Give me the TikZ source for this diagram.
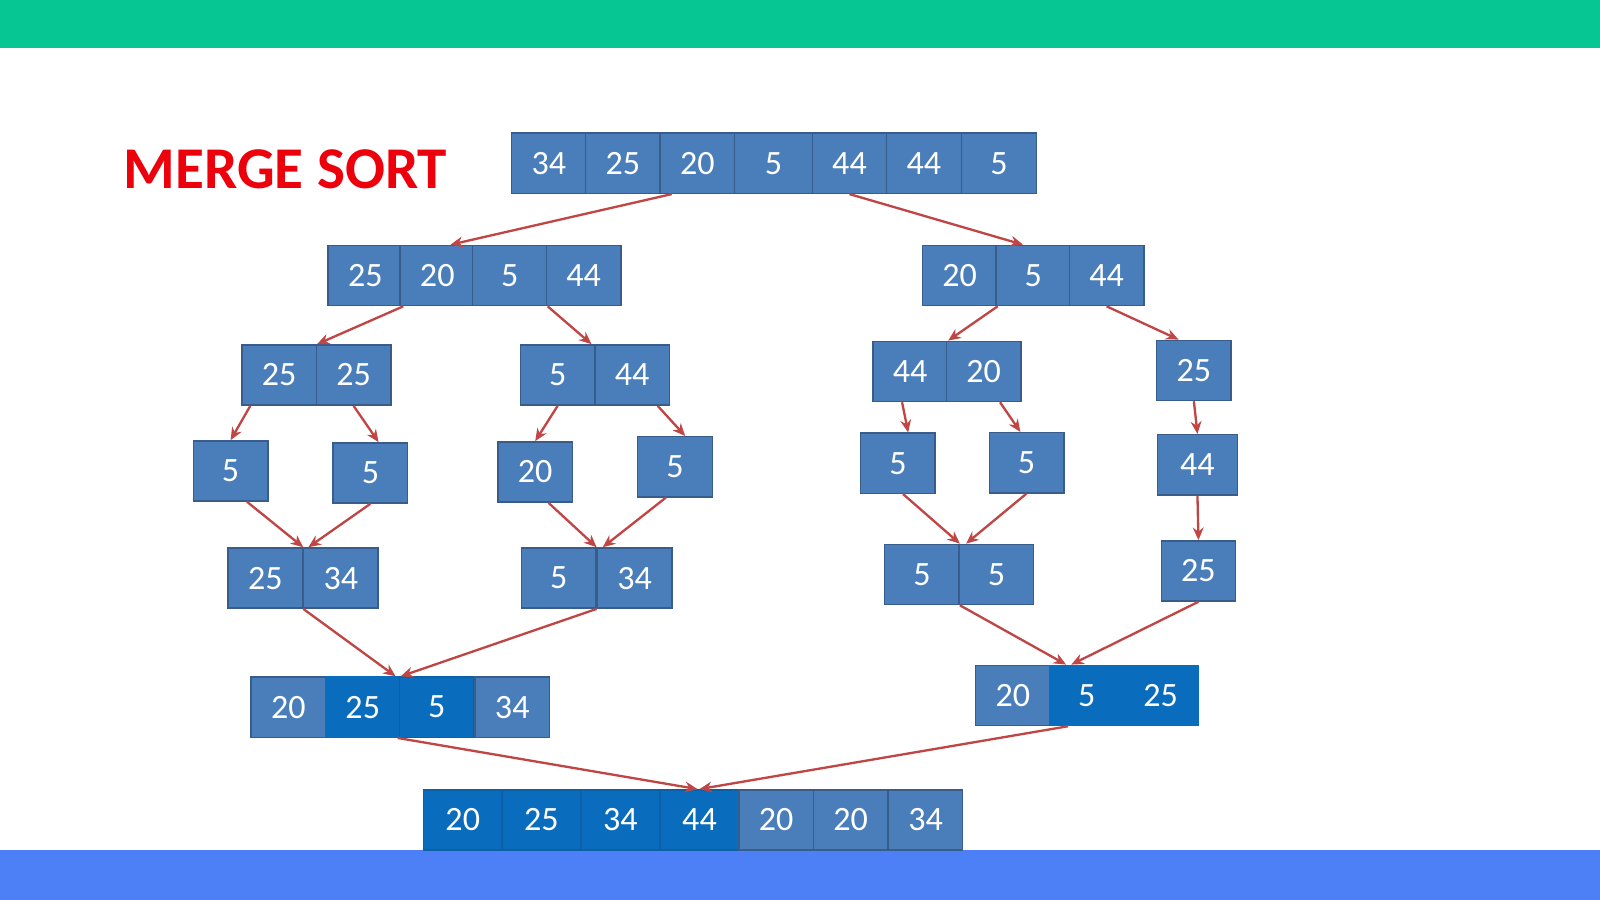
\documentclass[tikz,border=0pt]{standalone}
\usepackage{fontspec}
\setmainfont{Carlito}
\usepackage{tikz}
\usetikzlibrary{arrows.meta,calc}

\definecolor{topbar}{RGB}{6,199,148}
\definecolor{bottombar}{RGB}{77,128,246}
\definecolor{cellfill}{RGB}{74,126,187}
\definecolor{cellline}{RGB}{56,93,138}
\definecolor{celldark}{RGB}{10,108,189}
\definecolor{darkline}{RGB}{14,96,166}
\definecolor{linkred}{RGB}{192,70,70}
\definecolor{titlered}{RGB}{236,0,12}

\begin{document}
\begin{tikzpicture}[x=0.02cm, y=-0.02cm,
    cell/.style={draw=cellline, line width=0.8pt, fill=cellfill, text=white,
      minimum width=1.46cm, minimum height=1.18cm, inner sep=0pt,
      font=\fontsize{19}{21}\selectfont},
    darkcell/.style={cell, fill=celldark, draw=celldark},
    link/.style={-{Stealth[length=7pt,width=6pt]}, draw=linkred, line width=1.3pt}]
    \useasboundingbox (0,0) rectangle (1568,882);
    % Bars
    \fill[topbar] (0,0) rectangle (1568,47);
    \fill[bottombar] (0,833) rectangle (1568,882);

    % Title
    \node[anchor=west, inner sep=0pt, text=titlered, font=\fontsize{33}{36}\selectfont\bfseries] (title) at (121,166) {MERGE SORT};

    % Define nodes
    \node[cell] (T1) at (538,160) {34};
    \node[cell] (T2) at (610.5,160) {25};
    \node[cell] (T3) at (683.5,160) {20};
    \node[cell, minimum width=1.52cm] (T4) at (758,160) {5};
    \node[cell] (T5) at (832.5,160) {44};
    \node[cell] (T6) at (905.5,160) {44};
    \node[cell] (T7) at (979,160) {5};

    \node[cell] (A1) at (358,270) {25};
    \node[cell] (A2) at (428.5,270) {20};
    \node[cell] (A3) at (499.5,270) {5};
    \node[cell] (A4) at (572,270) {44};

    \node[cell] (B1) at (940.5,270) {20};
    \node[cell] (B2) at (1012.5,270) {5};
    \node[cell] (B3) at (1084.5,270) {44};

    \node[cell] (C1) at (273.5,367.5) {25};
    \node[cell] (C2) at (346.5,367.5) {25};
    \node[cell] (D1) at (546.5,367.5) {5};
    \node[cell] (D2) at (619.5,367.5) {44};
    \node[cell] (E1) at (892,364) {44};
    \node[cell] (E2) at (964,364) {20};
    \node[cell] (F1) at (1170,363) {25};

    \node[cell] (G1) at (226,461.5) {5};
    \node[cell] (G2) at (363,463.5) {5};
    \node[cell] (G3) at (524.5,462.5) {20};
    \node[cell] (G4) at (661.5,457.5) {5};
    \node[cell] (G5) at (880,454) {5};
    \node[cell] (G6) at (1006,453.5) {5};
    \node[cell, minimum width=1.56cm] (G7) at (1173.5,455.5) {44};

    \node[cell] (H1) at (260,566.5) {25};
    \node[cell] (H2) at (334,566.5) {34};
    \node[cell] (I1) at (547.5,566.5) {5};
    \node[cell] (I2) at (622,566.5) {34};
    \node[cell] (J1) at (903.5,563) {5};
    \node[cell] (J2) at (976.5,563) {5};
    \node[cell] (K1) at (1174.5,559.5) {25};

    \node[cell] (M1) at (282.5,693) {20};
    \node[darkcell] (M2) at (355.5,693) {25};
    \node[darkcell, draw=darkline] (M3) at (428,693) {5};
    \node[cell] (M4) at (502,693) {34};

    \node[cell] (N1) at (992.5,681.5) {20};
    \node[darkcell] (N2) at (1065,681.5) {5};
    \node[darkcell] (N3) at (1137.5,681.5) {25};

    \node[darkcell, draw=darkline, minimum width=1.54cm] (S1) at (453.5,803.5) {20};
    \node[darkcell, draw=darkline, minimum width=1.54cm] (S2) at (530.5,803.5) {25};
    \node[darkcell, draw=darkline, minimum width=1.54cm] (S3) at (608,803.5) {34};
    \node[darkcell, draw=darkline, minimum width=1.54cm] (S4) at (685.5,803.5) {44};
    \node[cell] (S5) at (760.5,803.5) {20};
    \node[cell] (S6) at (833.5,803.5) {20};
    \node[cell] (S7) at (907,803.5) {34};

    % Draw arrows (split)
    \draw[link] ($(T3.south west)+(12,0)$) -- ($(A2.north)+(13,0)$);
    \draw[link] (T5.south) -- ($(B2.north)+(-10,0)$);
    \draw[link] (A1.south east) -- (C1.north east);
    \draw[link] (A3.south east) -- ($(D1.north east)+(-4,0)$);
    \draw[link] (B1.south east) -- (E1.north east);
    \draw[link] (B3.south) -- ($(F1.north)+(-15,0)$);
    \draw[link] ($(C1.south west)+(9,0)$) -- (G1.north);
    \draw[link] (C2.south) -- ($(G2.north)+(8,0)$);
    \draw[link] (D1.south) -- (G3.north);
    \draw[link] ($(D2.south)+(25,0)$) -- ($(G4.north)+(10,0)$);
    \draw[link] ($(E1.south)+(-8,0)$) -- ($(G5.north)+(10,0)$);
    \draw[link] ($(E2.south)+(16,0)$) -- ($(G6.north)+(-6,0)$);
    \draw[link] (F1.south) -- (G7.north);

    % Draw arrows (merge)
    \draw[link] ($(G1.south)+(16,0)$) -- (H1.north east);
    \draw[link] (G2.south) -- ($(H1.north east)+(5,0)$);
    \draw[link] ($(G3.south)+(13,0)$) -- (I1.north east);
    \draw[link] ($(G4.south)+(-9,0)$) -- ($(I1.north east)+(6,0)$);
    \draw[link] ($(G5.south)+(5,0)$) -- (J1.north east);
    \draw[link] (G6.south) -- ($(J1.north east)+(6,0)$);
    \draw[link] (G7.south) -- (K1.north);
    \draw[link] (H1.south east) -- ($(M2.north east)+(-5,0)$);
    \draw[link] (I1.south east) -- (M2.north east);
    \draw[link] (J1.south east) -- ($(N2.north west)+(17,0)$);
    \draw[link] (K1.south) -- ($(N2.north west)+(22,0)$);
    \draw[link] ($(M2.south east)+(-3,0)$) -- ($(S4.north)+(-2,0)$);
    \draw[link] ($(N2.south west)+(19,0)$) -- (S4.north);
\end{tikzpicture}
\end{document}
